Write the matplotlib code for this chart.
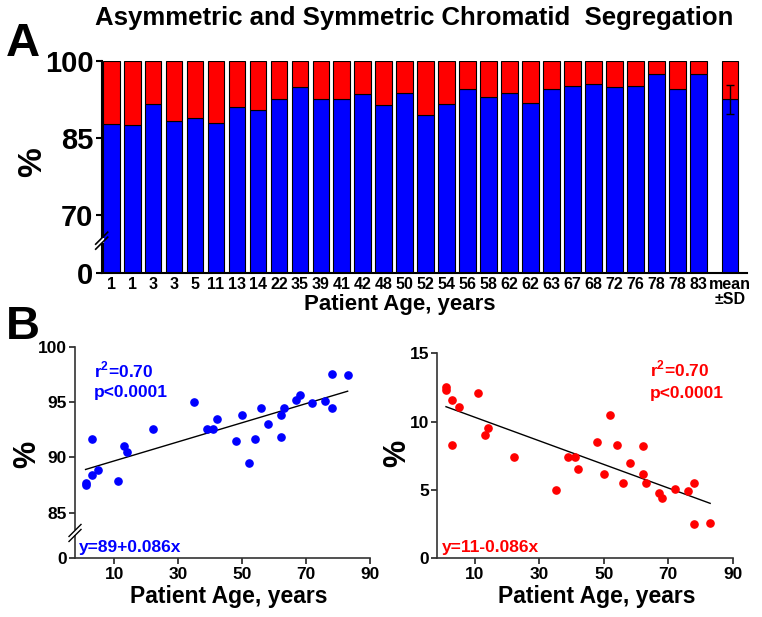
import numpy as np
import matplotlib
matplotlib.use('Agg')
import matplotlib.pyplot as plt

# ---------------- data ----------------
ages = [1, 1, 3, 3, 5, 11, 13, 14, 22, 35, 39, 41, 42, 48, 50, 52, 54, 56, 58,
        62, 62, 63, 67, 68, 72, 76, 78, 78, 83]
asym_pct = [87.7, 87.5, 91.7, 88.4, 88.9, 87.9, 91.0, 90.5, 92.6, 95.0, 92.6,
            92.6, 93.5, 91.5, 93.8, 89.5, 91.7, 94.5, 93.0, 93.8, 91.8, 94.5,
            95.2, 95.6, 94.9, 95.1, 97.5, 94.5, 97.4]
sym_pct = [100 - v for v in asym_pct]   # symmetric = complement
age_labels = [str(a) for a in ages]
mean_label = 'mean\n±SD'

BLUE = '#0000FF'
RED = '#FF0000'

plt.rcParams['font.family'] = ['Liberation Sans', 'DejaVu Sans']
plt.rcParams['font.weight'] = 'bold'
plt.rcParams['mathtext.fontset'] = 'custom'
plt.rcParams['mathtext.bf'] = 'Liberation Sans:bold'
plt.rcParams['mathtext.rm'] = 'Liberation Sans:bold'

W_FIG, H_FIG = 762, 617
fig = plt.figure(figsize=(7.62, 6.17), dpi=100)


def px_axes(l, t, r, b):
    return fig.add_axes([l / W_FIG, 1 - b / H_FIG, (r - l) / W_FIG, (b - t) / H_FIG])


def make_scale(t0, brk):
    def fwd(v):
        v = np.asarray(v, float)
        return np.where(v >= brk, v, t0 + v * (brk - t0) / brk)

    def inv(t):
        t = np.asarray(t, float)
        return np.where(t >= brk, t, (t - t0) * brk / (brk - t0))
    return fwd, inv


def draw_break(ax, yfrac, wpx, hpx, lw=1.0):
    gap = 2.5
    ax.plot([0, 0], [yfrac - gap / hpx, yfrac + gap / hpx], transform=ax.transAxes,
            color='white', lw=3, clip_on=False, zorder=10, solid_capstyle='butt')
    for off in (-gap, gap):
        ax.plot([-6 / wpx, 6 / wpx], [yfrac + (off - 6) / hpx, yfrac + (off + 6) / hpx],
                transform=ax.transAxes, color='black', lw=lw, clip_on=False, zorder=11)


# ---------------- Panel A ----------------
axA = px_axes(101.7, 61, 746.7, 273)
fA, iA = make_scale(58.7, 65)
axA.set_yscale('function', functions=(fA, iA))
xs = np.arange(len(ages))
axA.bar(xs, asym_pct, width=0.8, color=BLUE, edgecolor='black', linewidth=0.8)
axA.bar(xs, sym_pct, bottom=asym_pct, width=0.8, color=RED, edgecolor='black', linewidth=0.8)
mean_v = np.mean(asym_pct)
sd_v = np.std(asym_pct, ddof=1)
xm = len(ages) + 0.5
axA.bar([xm], [mean_v], width=0.8, color=BLUE, edgecolor='black', linewidth=0.8)
axA.bar([xm], [100 - mean_v], bottom=[mean_v], width=0.8, color=RED, edgecolor='black', linewidth=0.8)
axA.errorbar([xm], [mean_v], yerr=[sd_v], color='black', lw=1, capsize=3, capthick=1)
axA.set_xlim(-0.45, 30.3)
axA.set_ylim(0, 100)
axA.set_yticks([0, 70, 85, 100])
axA.set_yticklabels(['0', '70', '85', '100'], fontsize=21, fontweight='bold')
axA.set_xticks(list(xs) + [xm])
axA.set_xticklabels(age_labels + [mean_label], fontsize=11.5, fontweight='bold', linespacing=0.95)
axA.tick_params(axis='x', length=0, pad=3)
axA.tick_params(axis='y', length=4, width=1.5, pad=2, direction='out')
for s in ('top', 'right'):
    axA.spines[s].set_visible(False)
for s in ('left', 'bottom'):
    axA.spines[s].set_linewidth(1.5)
yfA = (fA(65) - fA(0)) / (100 - fA(0))
draw_break(axA, float(yfA), 645, 212, lw=1.2)

fig.text(400 / W_FIG, 1 - 310 / H_FIG, 'Patient Age, years', ha='center', va='baseline',
         fontsize=16, fontweight='bold')
fig.text(33 / W_FIG, 1 - 162 / H_FIG, '%', ha='center', va='center', rotation=90,
         fontsize=24, fontweight='bold')
fig.text(414 / W_FIG, 1 - 25 / H_FIG, 'Asymmetric and Symmetric Chromatid  Segregation',
         ha='center', va='baseline', fontsize=18.5, fontweight='bold')
fig.text(6 / W_FIG, 1 - 44 / H_FIG, 'A', ha='left', va='center', fontsize=34, fontweight='bold')
fig.text(6 / W_FIG, 1 - 327 / H_FIG, 'B', ha='left', va='center', fontsize=34, fontweight='bold')

# ---------------- Panel B left ----------------
axL = px_axes(75, 346.7, 370, 558.3)
fL, iL = make_scale(80.88, 83.17)
axL.set_yscale('function', functions=(fL, iL))
axL.plot(ages, asym_pct, 'o', color=BLUE, ms=5.2, mec=BLUE, zorder=3)
kL = np.polyfit(ages, asym_pct, 1)
xx = np.array([min(ages), max(ages)])
axL.plot(xx, np.polyval(kL, xx), color='black', lw=1)
axL.set_xlim(-2.3, 90)
axL.set_ylim(0, 100)
axL.set_yticks([0, 85, 90, 95, 100])
axL.set_xticks([10, 30, 50, 70, 90])
axL.tick_params(labelsize=12.5, length=4, width=1.2, pad=2, colors='#222222', labelcolor='black')
for lab in axL.get_xticklabels() + axL.get_yticklabels():
    lab.set_fontweight('bold')
for s in ('top', 'right'):
    axL.spines[s].set_visible(False)
for s in ('left', 'bottom'):
    axL.spines[s].set_linewidth(1.2)
    axL.spines[s].set_color('#333333')
yfL = (fL(83.17) - fL(0)) / (100 - fL(0))
draw_break(axL, float(yfL), 295, 211.6, lw=1.0)
axL.text(0.064, 0.857, r'r$^{\mathbf{2}}$=0.70', transform=axL.transAxes, color=BLUE,
         fontsize=12.5, fontweight='bold', va='baseline')
axL.text(0.064, 0.763, 'p<0.0001', transform=axL.transAxes, color=BLUE,
         fontsize=12.5, fontweight='bold', va='baseline')
axL.text(0.014, 0.03, 'y=89+0.086x', transform=axL.transAxes, color=BLUE,
         fontsize=12.5, fontweight='bold', va='baseline')
fig.text(229 / W_FIG, 1 - 603 / H_FIG, 'Patient Age, years', ha='center', va='baseline',
         fontsize=16.5, fontweight='bold')
fig.text(27 / W_FIG, 1 - 454 / H_FIG, '%', ha='center', va='center', rotation=90,
         fontsize=22, fontweight='bold')

# ---------------- Panel B right ----------------
axR = px_axes(437.3, 353.3, 732.7, 558.3)
axR.plot(ages, sym_pct, 'o', color=RED, ms=5.2, mec=RED, zorder=3)
kR = np.polyfit(ages, sym_pct, 1)
axR.plot(xx, np.polyval(kR, xx), color='black', lw=1)
axR.set_xlim(-1.7, 90)
axR.set_ylim(0, 15)
axR.set_yticks([0, 5, 10, 15])
axR.set_xticks([10, 30, 50, 70, 90])
axR.tick_params(labelsize=12.5, length=4, width=1.2, pad=2, colors='#222222', labelcolor='black')
for lab in axR.get_xticklabels() + axR.get_yticklabels():
    lab.set_fontweight('bold')
for s in ('top', 'right'):
    axR.spines[s].set_visible(False)
for s in ('left', 'bottom'):
    axR.spines[s].set_linewidth(1.2)
    axR.spines[s].set_color('#333333')
axR.text(0.72, 0.886, r'r$^{\mathbf{2}}$=0.70', transform=axR.transAxes, color=RED,
         fontsize=12.5, fontweight='bold', va='baseline')
axR.text(0.72, 0.78, 'p<0.0001', transform=axR.transAxes, color=RED,
         fontsize=12.5, fontweight='bold', va='baseline')
axR.text(0.015, 0.03, 'y=11-0.086x', transform=axR.transAxes, color=RED,
         fontsize=12.5, fontweight='bold', va='baseline')
fig.text(597 / W_FIG, 1 - 603 / H_FIG, 'Patient Age, years', ha='center', va='baseline',
         fontsize=16.5, fontweight='bold')
fig.text(397 / W_FIG, 1 - 453 / H_FIG, '%', ha='center', va='center', rotation=90,
         fontsize=22, fontweight='bold')

fig.savefig('out.png', dpi=100)
